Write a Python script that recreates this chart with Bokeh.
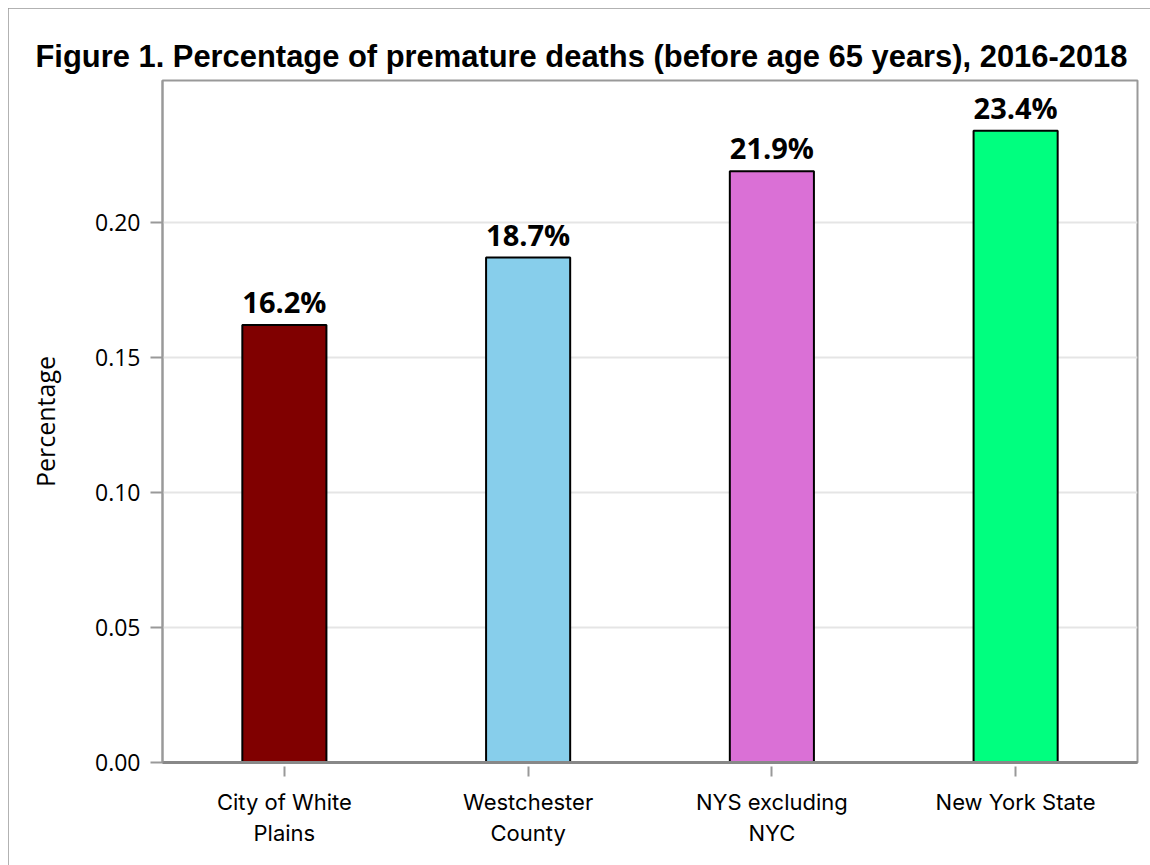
from bokeh.plotting import figure
from bokeh.models import ColumnDataSource, Range1d, LabelSet, FixedTicker, PrintfTickFormatter
from bokeh.core.properties import value
from bokeh.embed import file_html
from bokeh.resources import INLINE

categories = ["City of White\nPlains", "Westchester\nCounty", "NYS excluding\nNYC", "New York State"]
values = [0.162, 0.187, 0.219, 0.234]
labels = ["16.2%", "18.7%", "21.9%", "23.4%"]
colors = ["#800000", "#87CEEB", "#DA70D6", "#00FF7F"]
yticks = [0.0, 0.05, 0.10, 0.15, 0.20]

src = ColumnDataSource(dict(cat=categories, val=values, lab=labels, col=colors))

p = figure(x_range=categories, y_range=Range1d(0, 0.2526), width=1142, height=857,
           output_backend="svg", toolbar_location=None,
           min_border_left=154, min_border_top=72, min_border_right=13, min_border_bottom=103)
p.styles = {"margin-left": "8px", "margin-top": "8px",
            "box-shadow": "inset 2px 2px 0 0 #999999"}

p.vbar(x="cat", top="val", width=0.345, source=src, fill_color="col",
       line_color="black", line_width=2)

p.add_layout(LabelSet(x="cat", y="val", text="lab", source=src, text_align="center",
                      text_baseline="bottom", y_offset=4, text_font=value("Open Sans"),
                      text_font_style="bold", text_font_size="29px", text_color="black"))

p.title.text = "Figure 1. Percentage of premature deaths (before age 65 years), 2016-2018"
p.title.text_font = "Liberation Sans"
p.title.text_font_style = "bold"
p.title.text_font_size = "30.9px"
p.title.text_color = "black"
p.title.align = "left"
p.title.offset = -127
p.title.standoff = 14

p.outline_line_color = "#999999"
p.outline_line_width = 2

p.xgrid.grid_line_color = None
p.ygrid.grid_line_color = "#e5e5e5"
p.ygrid.grid_line_width = 2

p.yaxis.ticker = FixedTicker(ticks=yticks)
p.yaxis.formatter = PrintfTickFormatter(format="%.2f")
p.yaxis.axis_label = "Percentage"
p.yaxis.axis_label_text_font = "Open Sans"
p.yaxis.axis_label_text_font_style = "normal"
p.yaxis.axis_label_text_font_size = "25px"
p.yaxis.axis_label_text_color = "black"
p.yaxis.axis_label_standoff = 30
p.yaxis.major_label_text_font = "Open Sans"
p.yaxis.major_label_text_font_size = "23px"
p.yaxis.major_label_text_color = "black"
p.yaxis.major_label_standoff = 10
p.yaxis.axis_line_color = "#999999"
p.yaxis.axis_line_width = 2
p.yaxis.major_tick_line_color = "#999999"
p.yaxis.major_tick_line_width = 2
p.yaxis.major_tick_out = 12
p.yaxis.major_tick_in = 0
p.yaxis.minor_tick_line_color = None

p.xaxis.major_label_text_font = "Inter"
p.xaxis.major_label_text_font_size = "22px"
p.xaxis.major_label_text_color = "black"
p.xaxis.axis_line_color = "#888888"
p.xaxis.axis_line_width = 3
p.xaxis.major_tick_line_color = "#999999"
p.xaxis.major_tick_line_width = 2
p.xaxis.major_tick_out = 14
p.xaxis.major_tick_in = -4
p.xaxis.major_label_standoff = 12

open("out.html", "w").write(file_html(p, INLINE))
